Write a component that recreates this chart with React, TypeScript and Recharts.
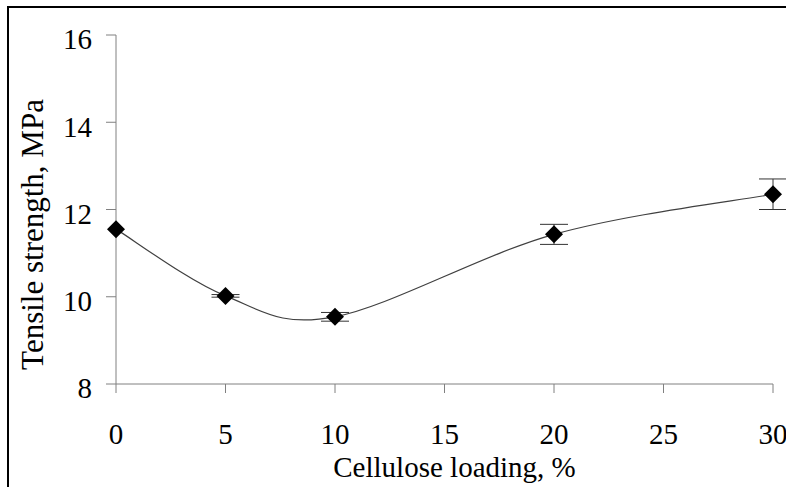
import { LineChart, Line, XAxis, YAxis, ErrorBar, Label } from "recharts";

const loading = [0, 5, 10, 20, 30];
const strength = [11.55, 10.02, 9.54, 11.43, 12.35];
const strengthErr = [0, 0.03, 0.1, 0.23, 0.35];
const xTicks = [0, 5, 10, 15, 20, 25, 30];
const yTicks = [8, 10, 12, 14, 16];

const data = loading.map((x, i) => ({
  loading: x,
  strength: strength[i],
  err: strengthErr[i],
}));

const FONT = "'Liberation Serif', 'DejaVu Serif', serif";
const AXIS = "#808080";

// Excel-like smoothed line: uniform Catmull-Rom through every point
function smoothCurve(context: any) {
  let pts: [number, number][] = [];
  return {
    areaStart() {},
    areaEnd() {},
    lineStart() {
      pts = [];
    },
    point(x: number, y: number) {
      pts.push([+x, +y]);
    },
    lineEnd() {
      if (!pts.length) return;
      context.moveTo(pts[0][0], pts[0][1]);
      for (let i = 0; i < pts.length - 1; i++) {
        const p0 = pts[i - 1] || pts[i];
        const p1 = pts[i];
        const p2 = pts[i + 1];
        const p3 = pts[i + 2] || p2;
        context.bezierCurveTo(
          p1[0] + (p2[0] - p0[0]) / 6,
          p1[1] + (p2[1] - p0[1]) / 6,
          p2[0] - (p3[0] - p1[0]) / 6,
          p2[1] - (p3[1] - p1[1]) / 6,
          p2[0],
          p2[1]
        );
      }
    },
  };
}

function Diamond(props: any) {
  const { cx, cy } = props;
  if (cx == null || cy == null) return null;
  const r = 9;
  return (
    <path
      d={`M${cx},${cy - r}L${cx + r},${cy}L${cx},${cy + r}L${cx - r},${cy}Z`}
      fill="#000"
    />
  );
}

export default function App() {
  return (
    <div
      style={{
        position: "absolute",
        left: 0,
        top: 0,
        width: 786,
        height: 487,
        overflow: "hidden",
        background: "#fff",
        fontFamily: FONT,
      }}
    >
      <div
        style={{
          position: "absolute",
          left: 7,
          top: 6,
          width: 900,
          height: 600,
          border: "2px solid #000",
        }}
      />
      <div style={{ position: "absolute", left: 0, top: 0 }}>
        <LineChart
          width={786}
          height={487}
          data={data}
          margin={{ top: 35, right: 13, bottom: 0, left: 0 }}
          style={{ fontFamily: FONT }}
        >
          <XAxis
            dataKey="loading"
            type="number"
            domain={[0, 30]}
            ticks={xTicks}
            interval={0}
            stroke={AXIS}
            tickSize={9}
            tickMargin={30}
            height={103}
            tick={{ fill: "#000", fontSize: 29, style: { fontFamily: FONT } }}
          >
            <Label
              content={(p: any) => {
                const vb = p.viewBox;
                return (
                  <text
                    x={vb.x + vb.width / 2 + 10}
                    y={vb.y + 93}
                    textAnchor="middle"
                    fontSize={29}
                    style={{ fontFamily: FONT }}
                    fill="#000"
                  >
                    Cellulose loading, %
                  </text>
                );
              }}
            />
          </XAxis>
          <YAxis
            type="number"
            domain={[8, 16]}
            ticks={yTicks}
            interval={0}
            width={116}
            stroke={AXIS}
            tickSize={10}
            tickMargin={14}
            tick={{ fill: "#000", fontSize: 29, dy: 4, style: { fontFamily: FONT } }}
          >
            <Label
              content={(p: any) => {
                const vb = p.viewBox;
                const cx = vb.x + 43;
                const cy = vb.y + vb.height / 2 + 25;
                return (
                  <text
                    x={cx}
                    y={cy}
                    transform={`rotate(-90, ${cx}, ${cy})`}
                    textAnchor="middle"
                    fontSize={31}
                    style={{ fontFamily: FONT }}
                    fill="#000"
                  >
                    Tensile strength, MPa
                  </text>
                );
              }}
            />
          </YAxis>
          <Line
            type={smoothCurve as any}
            dataKey="strength"
            stroke="#404040"
            strokeWidth={1.2}
            dot={<Diamond />}
            activeDot={false}
            isAnimationActive={false}
          >
            <ErrorBar
              dataKey="err"
              direction="y"
              width={14}
              stroke="#333"
              strokeWidth={1}
              isAnimationActive={false}
            />
          </Line>
        </LineChart>
      </div>
    </div>
  );
}
